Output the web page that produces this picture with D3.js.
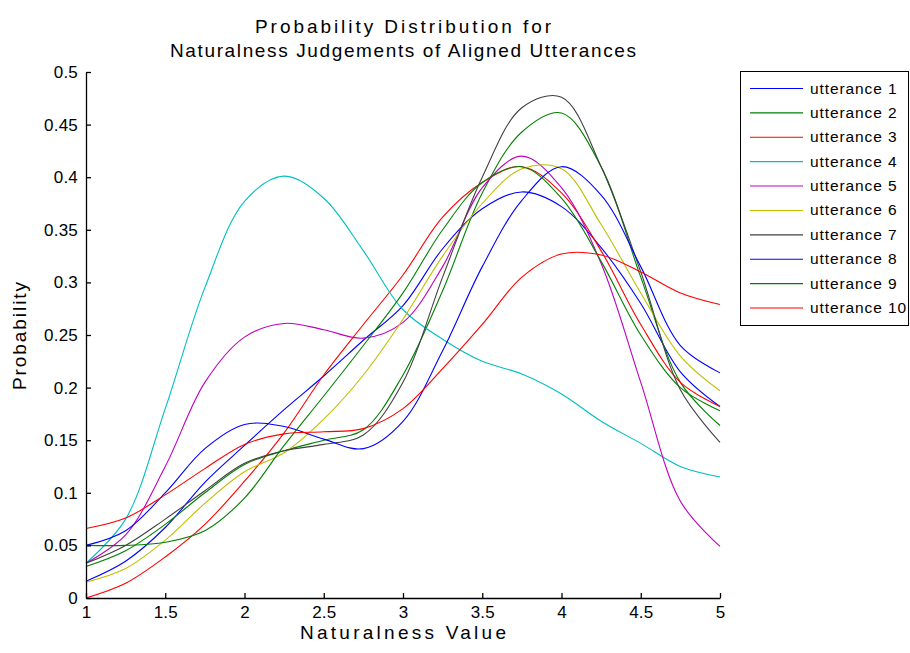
<!DOCTYPE html>
<html>
<head>
<meta charset="utf-8">
<script src="https://cdn.jsdelivr.net/npm/d3@7"></script>
<style>
  body { margin: 0; background: #fff; }
  text { font-family: "Liberation Sans", Arial, sans-serif; fill: #000; }
</style>
</head>
<body>
<div id="chart"></div>
<script>
// x positions shared by every curve
var xValues = [1, 1.25, 1.5, 1.75, 2, 2.25, 2.5, 2.75, 3, 3.25, 3.5, 3.75, 4, 4.25, 4.5, 4.75, 5];

// probability
var utt1  = [0.016, 0.035, 0.067, 0.11, 0.145, 0.179, 0.211, 0.245, 0.278, 0.332, 0.37, 0.386, 0.372, 0.333, 0.28, 0.215, 0.182];
var utt2  = [0.03, 0.045, 0.07, 0.1, 0.127, 0.14, 0.15, 0.16, 0.212, 0.292, 0.385, 0.443, 0.461, 0.41, 0.305, 0.205, 0.164];
var utt3  = [0, 0.014, 0.039, 0.07, 0.111, 0.157, 0.212, 0.26, 0.307, 0.362, 0.395, 0.41, 0.385, 0.33, 0.26, 0.205, 0.182];
var utt4  = [0.033, 0.075, 0.18, 0.295, 0.377, 0.401, 0.38, 0.33, 0.274, 0.246, 0.225, 0.213, 0.194, 0.168, 0.147, 0.125, 0.115];
var utt5  = [0.033, 0.06, 0.125, 0.205, 0.248, 0.261, 0.255, 0.247, 0.262, 0.315, 0.39, 0.42, 0.39, 0.318, 0.205, 0.092, 0.049];
var utt6  = [0.015, 0.028, 0.055, 0.09, 0.12, 0.138, 0.17, 0.212, 0.265, 0.325, 0.375, 0.408, 0.408, 0.355, 0.29, 0.23, 0.197];
var utt7  = [0.033, 0.05, 0.075, 0.102, 0.128, 0.14, 0.146, 0.155, 0.205, 0.305, 0.4, 0.466, 0.476, 0.41, 0.31, 0.198, 0.148];
var utt8  = [0.05, 0.064, 0.1, 0.142, 0.165, 0.163, 0.151, 0.142, 0.168, 0.235, 0.315, 0.378, 0.41, 0.383, 0.315, 0.24, 0.214];
var utt9  = [0.05, 0.05, 0.053, 0.064, 0.095, 0.145, 0.192, 0.24, 0.29, 0.35, 0.395, 0.41, 0.38, 0.32, 0.25, 0.2, 0.178];
var utt10 = [0.066, 0.076, 0.098, 0.123, 0.146, 0.156, 0.158, 0.161, 0.18, 0.218, 0.26, 0.305, 0.327, 0.326, 0.31, 0.29, 0.279];

var seriesNames = ["utterance 1", "utterance 2", "utterance 3", "utterance 4", "utterance 5",
                   "utterance 6", "utterance 7", "utterance 8", "utterance 9", "utterance 10"];
var seriesValues = [utt1, utt2, utt3, utt4, utt5, utt6, utt7, utt8, utt9, utt10];

// matlab default colour order, cycling after seven
var lineColors = ["#0000ff", "#008000", "#ff0000", "#00bfbf", "#bf00bf", "#bfbf00", "#404040",
                  "#0000ff", "#008000", "#ff0000"];

var xTicks = [1, 1.5, 2, 2.5, 3, 3.5, 4, 4.5, 5];
var yTicks = [0, 0.05, 0.1, 0.15, 0.2, 0.25, 0.3, 0.35, 0.4, 0.45, 0.5];

var width = 910, height = 653;
var margin = { top: 72, right: 190, bottom: 55, left: 86 };
var plotW = width - margin.left - margin.right,
    plotH = height - margin.top - margin.bottom;

var svg = d3.select("#chart")
    .append("svg")
    .attr("width", width)
    .attr("height", height);

var g = svg.append("g")
    .attr("transform", "translate(" + margin.left + "," + margin.top + ")");

// Set the ranges
var x = d3.scaleLinear().domain([1, 5]).range([0, plotW]);
var y = d3.scaleLinear().domain([0, 0.5]).range([plotH, 0]);

// Define the line
var valueline = d3.line()
    .x(function (d) { return x(d.x); })
    .y(function (d) { return y(d.y); })
    .curve(d3.curveCatmullRom.alpha(0.5));

for (var i = 0; i < seriesValues.length; i++) {
    var pts = xValues.map(function (v, j) {
        return { x: v, y: seriesValues[i][j] };
    });
    g.append("path")
        .attr("fill", "none")
        .attr("stroke", lineColors[i])
        .attr("stroke-width", 1.1)
        .attr("d", valueline(pts));
}

// Add the X Axis (ticks point inward like matlab)
var xAxis = d3.axisBottom(x)
    .tickValues(xTicks)
    .tickFormat(d3.format("~g"))
    .tickSizeInner(-5)
    .tickSizeOuter(0)
    .tickPadding(8);

var xg = g.append("g")
    .attr("transform", "translate(0," + plotH + ")")
    .call(xAxis);

// Add the Y Axis
var yAxis = d3.axisLeft(y)
    .tickValues(yTicks)
    .tickFormat(d3.format("~g"))
    .tickSizeInner(-5)
    .tickSizeOuter(0)
    .tickPadding(8);

var yg = g.append("g")
    .call(yAxis);

[xg, yg].forEach(function (ax) {
    ax.select(".domain").attr("stroke", "#000").attr("stroke-width", 1.3);
    ax.selectAll(".tick line").attr("stroke", "#000").attr("stroke-width", 1.3);
    ax.selectAll(".tick text")
        .attr("fill", "#000")
        .style("font-family", '"Liberation Sans", Arial, sans-serif')
        .style("font-size", "17px")
        .style("letter-spacing", "0.2px");
});

// Title, two lines
svg.append("text")
    .attr("x", 403)
    .attr("y", 33)
    .attr("text-anchor", "middle")
    .style("font-size", "19px")
    .attr("textLength", 296)
    .text("Probability Distribution for");

svg.append("text")
    .attr("x", 403)
    .attr("y", 57)
    .attr("text-anchor", "middle")
    .style("font-size", "19px")
    .attr("textLength", 466)
    .text("Naturalness Judgements of Aligned Utterances");

// Add the text label for the X axis
svg.append("text")
    .attr("x", 403)
    .attr("y", 639)
    .attr("text-anchor", "middle")
    .style("font-size", "19px")
    .attr("textLength", 206)
    .text("Naturalness Value");

// Add the text label for the Y axis
svg.append("text")
    .attr("transform", "translate(26,336) rotate(-90)")
    .attr("text-anchor", "middle")
    .style("font-size", "19px")
    .attr("textLength", 108)
    .text("Probability");

// Legend
var legend = svg.append("g");
legend.append("rect")
    .attr("x", 740.5)
    .attr("y", 71.5)
    .attr("width", 168)
    .attr("height", 254)
    .attr("fill", "#fff")
    .attr("stroke", "#000")
    .attr("stroke-width", 1);

var rowY = d3.scaleLinear().domain([0, 9]).range([88.5, 308]);

seriesNames.forEach(function (name, k) {
    legend.append("line")
        .attr("x1", 750)
        .attr("x2", 803)
        .attr("y1", rowY(k))
        .attr("y2", rowY(k))
        .attr("stroke", lineColors[k])
        .attr("stroke-width", 1.1);
    legend.append("text")
        .attr("x", 810)
        .attr("y", rowY(k) + 5)
        .style("font-size", "15.5px")
        .style("letter-spacing", "0.9px")
        .text(name);
});
</script>
</body>
</html>
